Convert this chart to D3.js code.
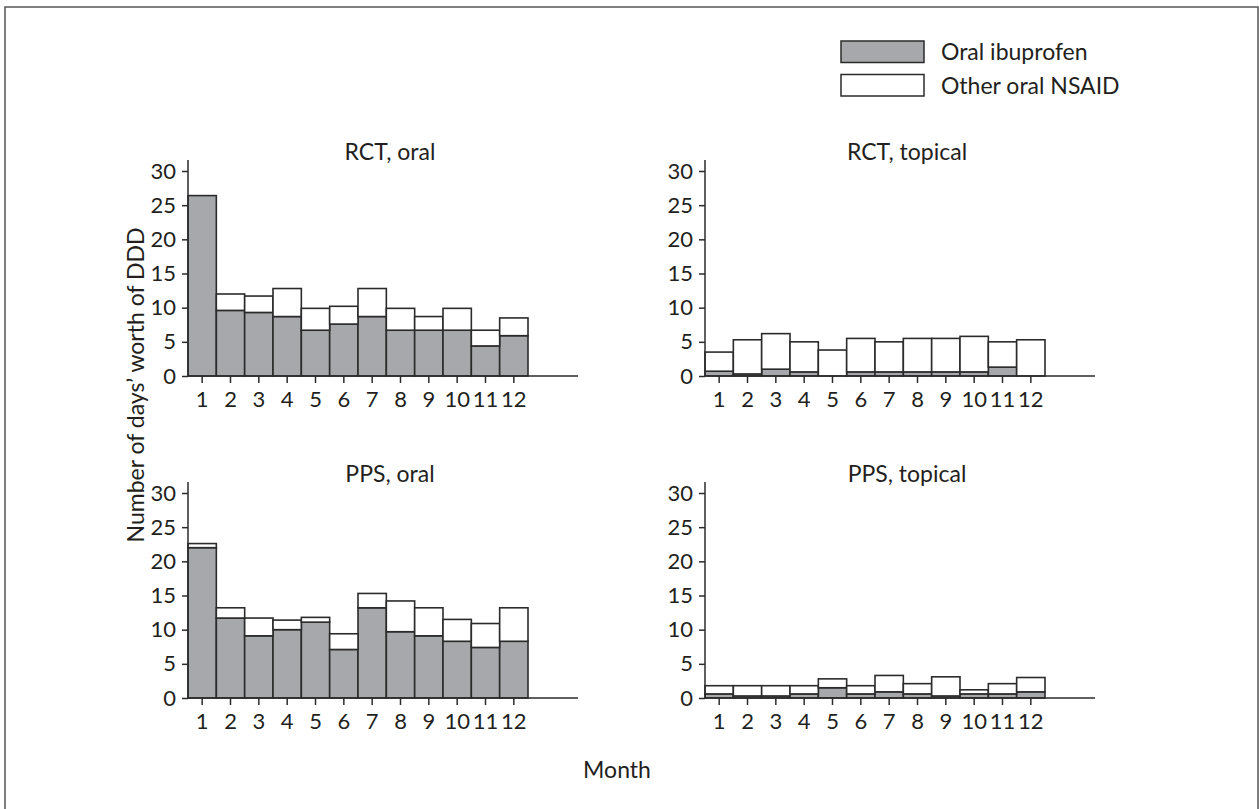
<!DOCTYPE html>
<html>
<head>
<meta charset="utf-8">
<script src="https://cdn.jsdelivr.net/npm/d3@7"></script>
<style>
  html, body { margin: 0; padding: 0; background: #fff; }
  svg { display: block; }
  text { font-family: Lato, "Open Sans", sans-serif; fill: #231f20; }
</style>
</head>
<body>
<script>
// Monthly days' worth of DDD, split into oral ibuprofen and other oral NSAIDs
const months = ["1", "2", "3", "4", "5", "6", "7", "8", "9", "10", "11", "12"];
const yTicks = [0, 5, 10, 15, 20, 25, 30];
const seriesNames = ["Oral ibuprofen", "Other oral NSAID"];

const rctOralIbuprofen  = [26.4, 9.6, 9.3, 8.7, 6.7, 7.6, 8.7, 6.7, 6.7, 6.7, 4.4, 5.9];
const rctOralOther      = [0.0, 2.4, 2.4, 4.1, 3.2, 2.6, 4.1, 3.2, 2.0, 3.2, 2.3, 2.6];

const rctTopicalIbuprofen = [0.7, 0.3, 1.0, 0.6, 0.0, 0.6, 0.6, 0.6, 0.6, 0.6, 1.3, 0.0];
const rctTopicalOther     = [2.8, 5.0, 5.2, 4.4, 3.8, 4.9, 4.4, 4.9, 4.9, 5.2, 3.7, 5.3];

const ppsOralIbuprofen  = [22.0, 11.7, 9.1, 10.0, 11.1, 7.1, 13.2, 9.7, 9.1, 8.3, 7.4, 8.3];
const ppsOralOther      = [0.6, 1.5, 2.6, 1.4, 0.7, 2.3, 2.1, 4.5, 4.1, 3.2, 3.5, 4.9];

const ppsTopicalIbuprofen = [0.6, 0.3, 0.3, 0.6, 1.5, 0.6, 0.9, 0.6, 0.3, 0.6, 0.6, 0.9];
const ppsTopicalOther     = [1.2, 1.5, 1.5, 1.2, 1.3, 1.2, 2.4, 1.5, 2.8, 0.6, 1.5, 2.1];

const panelTitles = ["RCT, oral", "RCT, topical", "PPS, oral", "PPS, topical"];

const panels = [
  { title: panelTitles[0], ibu: rctOralIbuprofen, other: rctOralOther, col: 0, row: 0 },
  { title: panelTitles[1], ibu: rctTopicalIbuprofen, other: rctTopicalOther, col: 1, row: 0 },
  { title: panelTitles[2], ibu: ppsOralIbuprofen, other: ppsOralOther, col: 0, row: 1 },
  { title: panelTitles[3], ibu: ppsTopicalIbuprofen, other: ppsTopicalOther, col: 1, row: 1 }
];

const W = 1259, H = 809;
const FILL_IBU = "#a7a8ab";
const STROKE = "#2b2b2b";
const FONT = 23;       // titles, legend, axis titles
const TICK_FONT = 22;  // tick labels
const FAMILY = "Lato, 'Open Sans', sans-serif";

const svg = d3.select("body").append("svg")
  .attr("width", W).attr("height", H);

// outer frame
svg.append("rect")
  .attr("x", 5).attr("y", 7)
  .attr("width", 1253).attr("height", 812)
  .attr("fill", "none").attr("stroke", "#555").attr("stroke-width", 1.5);

// panel layout
const axisX = [188, 705];   // y-axis position per column
const zeroY = [376, 698];   // baseline per row
const plotH = 205;          // pixels for 30 units
const barsW = 340;          // width covered by the 12 bars
const axisLen = 390;        // x-axis line length

panels.forEach(p => {
  const x0 = axisX[p.col];
  const y0 = zeroY[p.row];
  const g = svg.append("g");

  const x = d3.scaleBand().domain(months).range([x0, x0 + barsW]).padding(0);
  const y = d3.scaleLinear().domain([0, 30]).range([y0, y0 - plotH]);

  const rows = months.map((m, i) => ({ m, ibu: p.ibu[i], other: p.other[i] }));
  const stack = d3.stack().keys(["ibu", "other"])(rows);

  // bars: ibuprofen (grey) at the bottom, other NSAIDs (white) stacked above
  stack.forEach((layer, li) => {
    g.selectAll(null)
      .data(layer.filter(d => d[1] - d[0] > 0))
      .join("rect")
      .attr("x", d => x(d.data.m))
      .attr("width", x.bandwidth())
      .attr("y", d => y(d[1]))
      .attr("height", d => y(d[0]) - y(d[1]))
      .attr("fill", li === 0 ? FILL_IBU : "#fff")
      .attr("stroke", STROKE)
      .attr("stroke-width", 1.6);
  });

  // y axis
  const yAxis = d3.axisLeft(y).tickValues(yTicks).tickSize(6).tickPadding(6);
  const ya = g.append("g").attr("transform", `translate(${x0},0)`).call(yAxis);
  ya.select(".domain").attr("d", `M0,${y0}V${y(31.6)}`);
  ya.selectAll("line, path").attr("stroke", STROKE).attr("stroke-width", 1.5);
  ya.selectAll("text").attr("font-size", TICK_FONT).attr("fill", "#231f20")
    .style("font-family", FAMILY);

  // x axis
  const xAxis = d3.axisBottom(x).tickSize(7).tickPadding(8);
  const xa = g.append("g").attr("transform", `translate(0,${y0})`).call(xAxis);
  xa.select(".domain").attr("d", `M${x0},0H${x0 + axisLen}`);
  xa.selectAll("line, path").attr("stroke", STROKE).attr("stroke-width", 1.5);
  xa.selectAll("text").attr("font-size", TICK_FONT).attr("fill", "#231f20")
    .style("font-family", FAMILY);

  // panel title
  g.append("text")
    .attr("x", x0 + 202).attr("y", y0 - 216)
    .attr("text-anchor", "middle")
    .attr("font-size", FONT)
    .text(p.title);
});

// axis titles
svg.append("text")
  .attr("transform", "translate(144,385) rotate(-90)")
  .attr("text-anchor", "middle")
  .attr("font-size", FONT)
  .text("Number of days\u2019 worth of DDD");

svg.append("text")
  .attr("x", 617).attr("y", 778)
  .attr("text-anchor", "middle")
  .attr("font-size", FONT)
  .text("Month");

// legend
const legend = svg.append("g").attr("transform", "translate(841,41)");
const legendFills = [FILL_IBU, "#fff"];
seriesNames.forEach((name, i) => {
  const ly = i * 33.5;
  legend.append("rect")
    .attr("x", 0).attr("y", ly)
    .attr("width", 83).attr("height", 21.5)
    .attr("fill", legendFills[i])
    .attr("stroke", STROKE).attr("stroke-width", 1.5);
  legend.append("text")
    .attr("x", 100).attr("y", ly + 19)
    .attr("font-size", FONT)
    .text(name);
});
</script>
</body>
</html>
